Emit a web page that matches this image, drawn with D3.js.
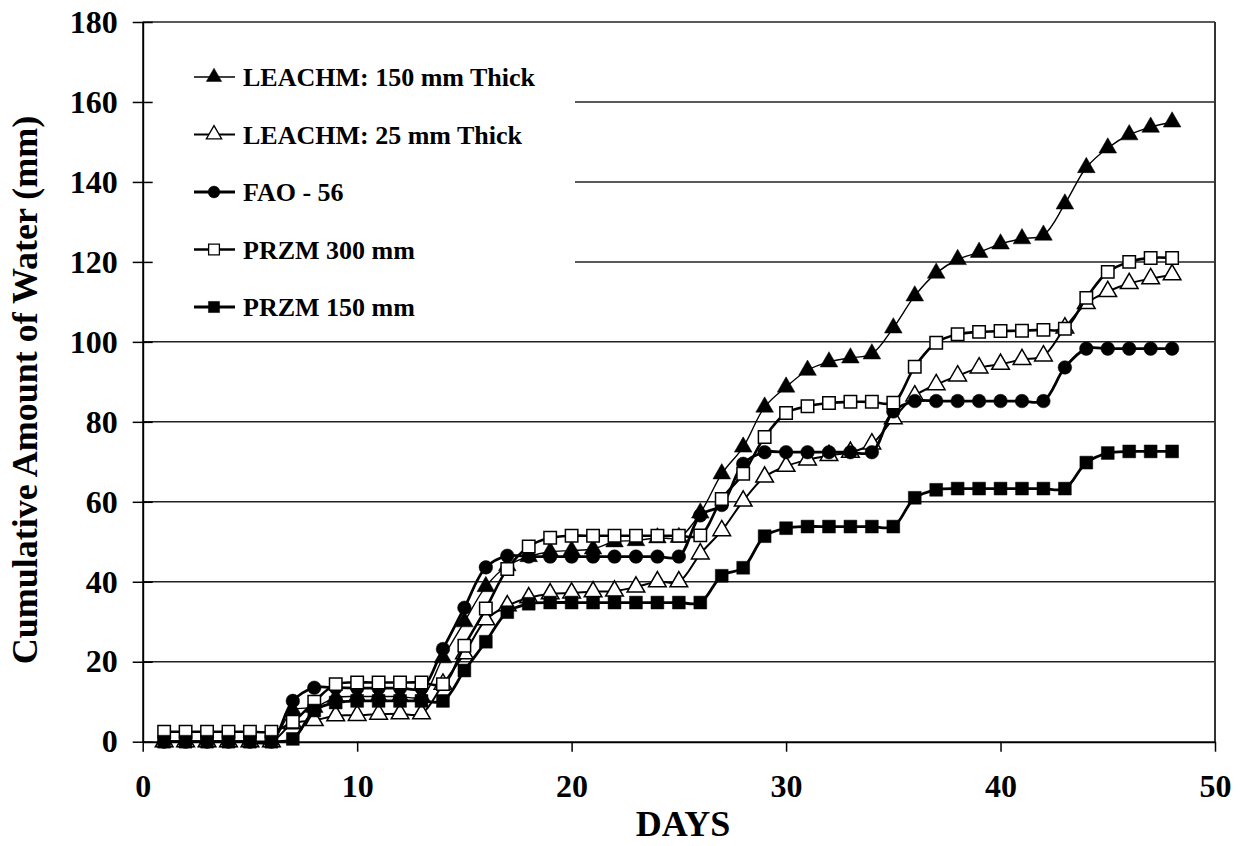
<!DOCTYPE html>
<html>
<head>
<meta charset="utf-8">
<script src="https://cdn.jsdelivr.net/npm/d3@7"></script>
<style>
  body { margin: 0; background: #fff; }
  text { font-family: "Liberation Serif", "Times New Roman", serif; font-weight: bold; fill: #000; }
</style>
</head>
<body>
<div id="container"></div>
<script>
/* CONSTANTS AND GLOBALS */
const width = 1246,
  height = 846;
const plotLeft = 142.7, plotRight = 1215, plotTop = 22, plotBottom = 741.7;

/* DATA */
const days = [1,2,3,4,5,6,7,8,9,10,11,12,13,14,15,16,17,18,19,20,21,22,23,24,
  25,26,27,28,29,30,31,32,33,34,35,36,37,38,39,40,41,42,43,44,45,46,47,48];

const leachm150 = [0,0,0,0,0,0,7.8,8.6,11,11.3,11.3,11.3,11.3,21,30,38.8,44,46.3,47.5,47.8,
  48.2,50,50.3,51,51.1,57.2,67,73.7,83.7,88.7,92.9,95,96,97,103.5,111.5,117.2,120.6,
  122.4,124.5,125.8,126.7,134.5,143.6,148.5,151.8,153.7,155];

const leachm25 = [0,0,0,0,0,0,4.5,5.3,6.5,6.6,6.9,7,7,14.4,22,30.5,34,36,37,37.2,37.5,
  37.7,38.7,40,40,47,52.8,60.2,66.2,68.9,70.5,71.6,72.4,74.5,80.8,86.5,89.3,91.5,93.5,
  94.4,95.6,96.5,103.5,109.6,112.6,114.6,115.8,116.8];

const fao56 = [0,0,0,0,0,0,10.2,13.5,13.5,13.4,13.4,13.4,13.4,23.2,33.5,43.6,46.5,46.3,
  46.3,46.3,46.3,46.3,46.3,46.3,46.3,56.6,59.2,69.5,72.4,72.4,72.4,72.4,72.4,72.4,82.6,
  85.2,85.2,85.2,85.2,85.2,85.2,85.2,93.6,98.3,98.3,98.3,98.3,98.3];

const przm300 = [2.5,2.5,2.5,2.5,2.5,2.5,5,10,14.4,14.8,14.8,14.8,14.8,14.4,24,33.3,43.2,
  48.8,51,51.5,51.5,51.5,51.5,51.5,51.5,51.6,60.7,67,76.2,82.2,83.9,84.7,85,85,84.8,93.8,
  99.8,101.9,102.5,102.7,102.8,103,103.3,111,117.5,120,121,121];

const przm150 = [0,0,0,0,0,0,0.7,7.8,9.8,10.2,10.2,10.2,10.2,10.2,17.8,25,32.4,34.5,34.8,
  34.8,34.8,34.8,34.8,34.8,34.8,34.8,41.5,43.5,51.4,53.4,53.8,53.8,53.8,53.8,53.8,61,63,
  63.3,63.3,63.3,63.3,63.3,63.3,69.8,72.2,72.6,72.6,72.6];

const seriesNames = ["LEACHM: 150 mm Thick", "LEACHM: 25 mm Thick", "FAO - 56", "PRZM 300 mm", "PRZM 150 mm"];
const xTicks = [0, 10, 20, 30, 40, 50];
const yTicks = [0, 20, 40, 60, 80, 100, 120, 140, 160, 180];

const series = [
  { name: seriesNames[0], values: leachm150, symbol: d3.symbolTriangle, size: 135, fill: "#000", lw: 1.4 },
  { name: seriesNames[1], values: leachm25, symbol: d3.symbolTriangle, size: 135, fill: "#fff", lw: 2 },
  { name: seriesNames[2], values: fao56, symbol: d3.symbolCircle, size: 145, fill: "#000", lw: 2.8 },
  { name: seriesNames[3], values: przm300, symbol: d3.symbolSquare, size: 155, fill: "#fff", lw: 2.6 },
  { name: seriesNames[4], values: przm150, symbol: d3.symbolSquare, size: 165, fill: "#000", lw: 2.8 }
];

// SCALES
const xScale = d3.scaleLinear().domain([0, 50]).range([plotLeft, plotRight]);
const yScale = d3.scaleLinear().domain([0, 180]).range([plotBottom, plotTop]);

// CREATE SVG ELEMENT
const svg = d3.select("#container")
  .append("svg")
  .attr("width", width)
  .attr("height", height);

// GRIDLINES
svg.append("g")
  .selectAll("line")
  .data(yTicks.filter(d => d > 0))
  .join("line")
  .attr("x1", plotLeft).attr("x2", plotRight)
  .attr("y1", d => yScale(d)).attr("y2", d => yScale(d))
  .attr("stroke", "#222").attr("stroke-width", 1.5);

// right border
svg.append("line")
  .attr("x1", plotRight).attr("x2", plotRight)
  .attr("y1", plotTop).attr("y2", plotBottom)
  .attr("stroke", "#333").attr("stroke-width", 2);

// LEGEND BACKGROUND (hides the gridlines behind it)
svg.append("rect")
  .attr("x", plotLeft + 1).attr("y", 45)
  .attr("width", 575 - plotLeft - 1).attr("height", 285)
  .attr("fill", "#fff");

// AXES
const yAxis = svg.append("g")
  .attr("transform", `translate(${plotLeft},0)`)
  .call(d3.axisLeft(yScale).tickValues(yTicks).tickSize(10).tickSizeOuter(0));
yAxis.selectAll(".tick line").attr("x1", 10).attr("x2", -10).attr("stroke-width", 1.5);
yAxis.select(".domain").attr("stroke-width", 2);
yAxis.selectAll("text")
  .attr("x", -25)
  .style("font-size", "32px")
  .style("font-family", "Liberation Serif")
  .style("font-weight", "bold");

const xAxis = svg.append("g")
  .attr("transform", `translate(0,${plotBottom})`)
  .call(d3.axisBottom(xScale).tickValues(xTicks).tickSize(10).tickSizeOuter(0));
xAxis.selectAll(".tick line").attr("stroke-width", 1.5);
xAxis.select(".domain").attr("stroke-width", 2);
xAxis.selectAll("text")
  .attr("y", 44)
  .attr("dy", "0.35em")
  .style("font-size", "32px")
  .style("font-family", "Liberation Serif")
  .style("font-weight", "bold");

// LINE GENERATOR FUNCTION
const lineGen = d3.line()
  .x((d, i) => xScale(days[i]))
  .y(d => yScale(d))
  .curve(d3.curveCatmullRom.alpha(0.5));

// DRAW LINES AND MARKERS
series.forEach(s => {
  svg.append("path")
    .attr("fill", "none")
    .attr("stroke", "#000")
    .attr("stroke-width", s.lw)
    .attr("d", lineGen(s.values));

  svg.append("g")
    .selectAll("path")
    .data(s.values)
    .join("path")
    .attr("transform", (d, i) => `translate(${xScale(days[i])},${yScale(d)})`)
    .attr("d", d3.symbol().type(s.symbol).size(s.size))
    .attr("fill", s.fill)
    .attr("stroke", "#000")
    .attr("stroke-width", s.fill === "#fff" ? 1.5 : 0.5);
});

// LEGEND
const legend = svg.append("g");
series.forEach((s, i) => {
  const y = 77 + i * 57.5;
  legend.append("line")
    .attr("x1", 194).attr("x2", 235)
    .attr("y1", y).attr("y2", y)
    .attr("stroke", "#000").attr("stroke-width", s.lw);
  legend.append("path")
    .attr("transform", `translate(214,${y})`)
    .attr("d", d3.symbol().type(s.symbol).size(s.size * 0.75))
    .attr("fill", s.fill)
    .attr("stroke", "#000")
    .attr("stroke-width", s.fill === "#fff" ? 1.3 : 0.5);
  legend.append("text")
    .attr("x", 243).attr("y", y)
    .attr("dy", "0.35em")
    .style("font-size", "26px")
    .text(s.name);
});

// AXIS TITLES
svg.append("text")
  .attr("x", 683).attr("y", 836)
  .attr("text-anchor", "middle")
  .style("font-size", "36px")
  .text("DAYS");

svg.append("text")
  .attr("transform", "translate(24,390) rotate(-90)")
  .attr("text-anchor", "middle")
  .attr("dy", "0.35em")
  .style("font-size", "36px")
  .text("Cumulative Amount of Water (mm)");
</script>
</body>
</html>
